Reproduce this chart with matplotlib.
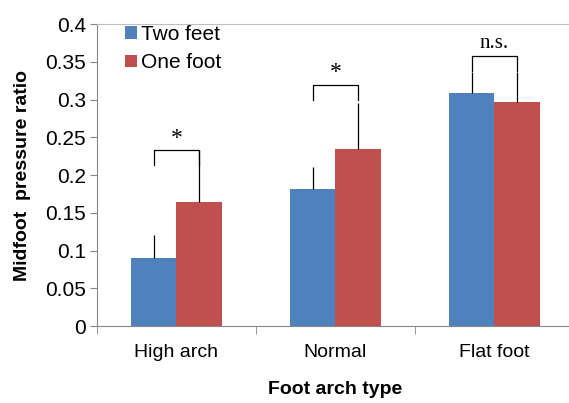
import numpy as np
import matplotlib.pyplot as plt

plt.rcParams['font.family'] = ['Liberation Sans', 'DejaVu Sans']

# 資料
categories = ['High arch', 'Normal', 'Flat foot']
two_feet = [0.090, 0.181, 0.309]
one_foot = [0.164, 0.234, 0.297]
two_feet_err = [0.030, 0.030, 0.027]
one_foot_err = [0.069, 0.061, 0.039]
bracket_y = [0.233, 0.320, 0.358]
sig_labels = ['*', '*', 'n.s.']
yticks = [0, 0.05, 0.1, 0.15, 0.2, 0.25, 0.3, 0.35, 0.4]
ytick_labels = ['0', '0.05', '0.1', '0.15', '0.2', '0.25', '0.3', '0.35', '0.4']

fig = plt.figure(figsize=(5.69, 4.03), dpi=100)
ax = fig.add_axes([0.1705, 0.191, 0.838, 0.749])

x = np.arange(len(categories))
w = 0.286
gray = '#868686'

ax.bar(x - w / 2, two_feet, w, color='#4F81BD', label='Two feet',
       yerr=[np.zeros(3), two_feet_err], error_kw=dict(ecolor='black', elinewidth=0.9, capsize=0))
ax.bar(x + w / 2, one_foot, w, color='#C0504D', label='One foot',
       yerr=[np.zeros(3), one_foot_err], error_kw=dict(ecolor='black', elinewidth=0.9, capsize=0))

# 顯著性括號
for i in range(len(categories)):
    xl, xr, yb = x[i] - w / 2, x[i] + w / 2, bracket_y[i]
    ax.plot([xl, xl, xr, xr], [yb - 0.02, yb, yb, yb - 0.02], color='black', lw=0.9)
    if sig_labels[i] == '*':
        ax.text(x[i], yb + 0.002, '*', ha='center', va='bottom', fontsize=17,
                family='Liberation Serif')
    else:
        ax.text(x[i], yb + 0.004, sig_labels[i], ha='center', va='bottom', fontsize=15,
                family='Liberation Serif')

ax.set_xlim(-0.5, 2.5)
ax.set_ylim(0, 0.4)
ax.set_yticks(yticks)
ax.set_yticklabels(ytick_labels, fontsize=15)
ax.set_xticks(x)
ax.set_xticklabels(categories, fontsize=14)
ax.set_xticks([-0.5, 0.5, 1.5], minor=True)
ax.tick_params(axis='x', which='major', length=0, pad=13)
ax.tick_params(axis='x', which='minor', length=6, color=gray, direction='out')
ax.tick_params(axis='y', length=5, color=gray, direction='out', pad=3)

for s in ['left', 'bottom', 'top']:
    ax.spines[s].set_color(gray)
ax.spines['top'].set_color('#BFBFBF')
ax.spines['right'].set_visible(False)

ax.set_xlabel('Foot arch type', fontsize=14, fontweight='bold', labelpad=14)
ax.set_ylabel('Midfoot  pressure ratio', fontsize=14, fontweight='bold', labelpad=10)

ax.legend(loc='upper left', bbox_to_anchor=(0.02, 1.06), frameon=False, fontsize=15,
          handlelength=0.55, handleheight=0.55, handletextpad=0.2, labelspacing=0.45)

fig.savefig('out.png', dpi=100)
